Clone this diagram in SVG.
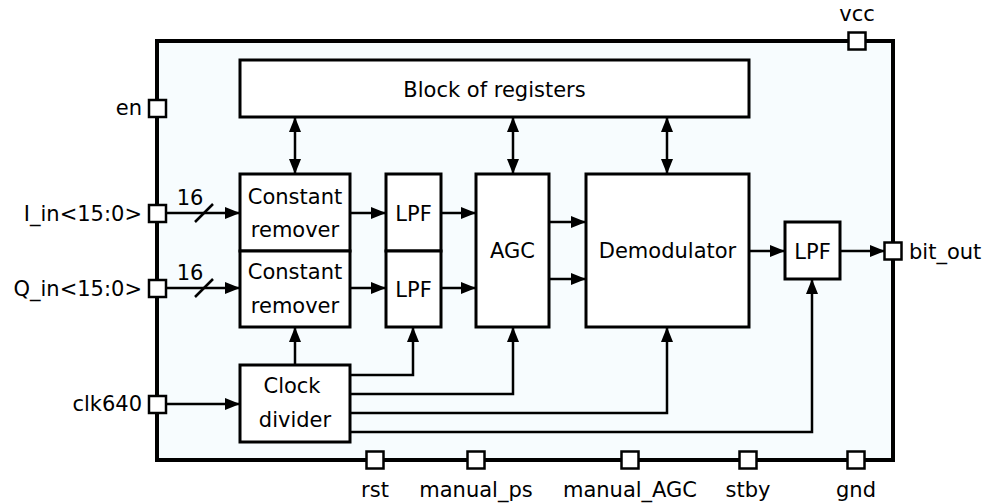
<svg xmlns="http://www.w3.org/2000/svg" width="1000" height="503" viewBox="0 0 1000 503">
<style>
text{font-family:"DejaVu Sans","Liberation Sans",sans-serif;font-size:21px;fill:#000}
.c{text-anchor:middle}
.e{text-anchor:end}
.box{fill:#fff;stroke:#000;stroke-width:3}
.pin{fill:#fff;stroke:#000;stroke-width:2.5}
.w{fill:none;stroke:#000;stroke-width:2.5}
.a{marker-end:url(#ah)}
.b{marker-end:url(#ah);marker-start:url(#ah)}
</style>
<defs>
<marker id="ah" markerUnits="userSpaceOnUse" markerWidth="15" markerHeight="12" refX="15" refY="6" orient="auto-start-reverse">
<path d="M0,0 L15,6 L0,12 z" fill="#000"/>
</marker>
</defs>
<g id="frame">
<rect x="157" y="41" width="736" height="419" fill="#f7fcfe" stroke="#000" stroke-width="4"/>
</g>
<g id="connectors">
<line class="w b" x1="295" y1="117" x2="295" y2="174"/>
<line class="w b" x1="513" y1="117" x2="513" y2="174"/>
<line class="w b" x1="667" y1="117" x2="667" y2="174"/>
<line class="w a" x1="166" y1="213" x2="240" y2="213"/>
<line class="w" x1="195" y1="222" x2="213" y2="204"/>
<text class="c" x="190" y="205">16</text>
<line class="w a" x1="166" y1="288" x2="240" y2="288"/>
<line class="w" x1="195" y1="297" x2="213" y2="279"/>
<text class="c" x="190" y="280">16</text>
<line class="w a" x1="350" y1="213" x2="386" y2="213"/>
<line class="w a" x1="350" y1="288" x2="386" y2="288"/>
<line class="w a" x1="441" y1="213" x2="476" y2="213"/>
<line class="w a" x1="441" y1="288" x2="476" y2="288"/>
<line class="w a" x1="549" y1="222" x2="586" y2="222"/>
<line class="w a" x1="549" y1="279" x2="586" y2="279"/>
<line class="w a" x1="749" y1="251" x2="785" y2="251"/>
<line class="w a" x1="840" y1="251" x2="885" y2="251"/>
<line class="w a" x1="166" y1="404" x2="240" y2="404"/>
<line class="w a" x1="295" y1="365" x2="295" y2="327"/>
<polyline class="w a" points="350,375 413,375 413,327"/>
<polyline class="w a" points="350,394 513,394 513,327"/>
<polyline class="w a" points="350,413 667,413 667,327"/>
<polyline class="w a" points="350,432 812,432 812,279"/>
</g>
<g id="registers">
<rect class="box" x="240" y="60" width="509" height="57"/>
<text class="c" x="494.5" y="97">Block of registers</text>
</g>
<g id="cr1">
<rect class="box" x="240" y="174" width="110" height="77"/>
<text class="c" x="295" y="204">Constant</text>
<text class="c" x="295" y="237">remover</text>
</g>
<g id="cr2">
<rect class="box" x="240" y="251" width="110" height="76"/>
<text class="c" x="295" y="279">Constant</text>
<text class="c" x="295" y="313">remover</text>
</g>
<g id="lpf1">
<rect class="box" x="386" y="174" width="55" height="77"/>
<text class="c" x="413.5" y="221">LPF</text>
</g>
<g id="lpf2">
<rect class="box" x="386" y="251" width="55" height="76"/>
<text class="c" x="413.5" y="297">LPF</text>
</g>
<g id="agc">
<rect class="box" x="476" y="174" width="73" height="153"/>
<text class="c" x="512.5" y="258">AGC</text>
</g>
<g id="demod">
<rect class="box" x="586" y="174" width="163" height="153"/>
<text class="c" x="667.5" y="258">Demodulator</text>
</g>
<g id="lpf3">
<rect class="box" x="785" y="222" width="55" height="57"/>
<text class="c" x="812.5" y="259">LPF</text>
</g>
<g id="clkdiv">
<rect class="box" x="240" y="365" width="110" height="77"/>
<text class="c" x="292" y="393">Clock</text>
<text class="c" x="295" y="427">divider</text>
</g>
<g id="pin-en"><rect class="pin" x="149" y="100" width="17" height="17"/><text class="e" x="142" y="115">en</text></g>
<g id="pin-iin"><rect class="pin" x="149" y="205" width="17" height="17"/><text class="e" x="142" y="221">I_in&lt;15:0&gt;</text></g>
<g id="pin-qin"><rect class="pin" x="149" y="280" width="17" height="17"/><text class="e" x="142" y="296">Q_in&lt;15:0&gt;</text></g>
<g id="pin-clk"><rect class="pin" x="149" y="396" width="17" height="17"/><text class="e" x="142" y="411">clk640</text></g>
<g id="pin-vcc"><rect class="pin" x="848.5" y="32.5" width="17" height="17"/><text class="c" x="857" y="21">vcc</text></g>
<g id="pin-bit"><rect class="pin" x="884.5" y="242.5" width="17" height="17"/><text x="909" y="259">bit_out</text></g>
<g id="pin-rst"><rect class="pin" x="366.5" y="451.5" width="17" height="17"/><text class="c" x="375" y="497">rst</text></g>
<g id="pin-mps"><rect class="pin" x="467.5" y="451.5" width="17" height="17"/><text class="c" x="476" y="497">manual_ps</text></g>
<g id="pin-magc"><rect class="pin" x="621.5" y="451.5" width="17" height="17"/><text class="c" x="630" y="497">manual_AGC</text></g>
<g id="pin-stby"><rect class="pin" x="739.5" y="451.5" width="17" height="17"/><text class="c" x="748" y="497">stby</text></g>
<g id="pin-gnd"><rect class="pin" x="847.5" y="451.5" width="17" height="17"/><text class="c" x="856" y="497">gnd</text></g>
</svg>
